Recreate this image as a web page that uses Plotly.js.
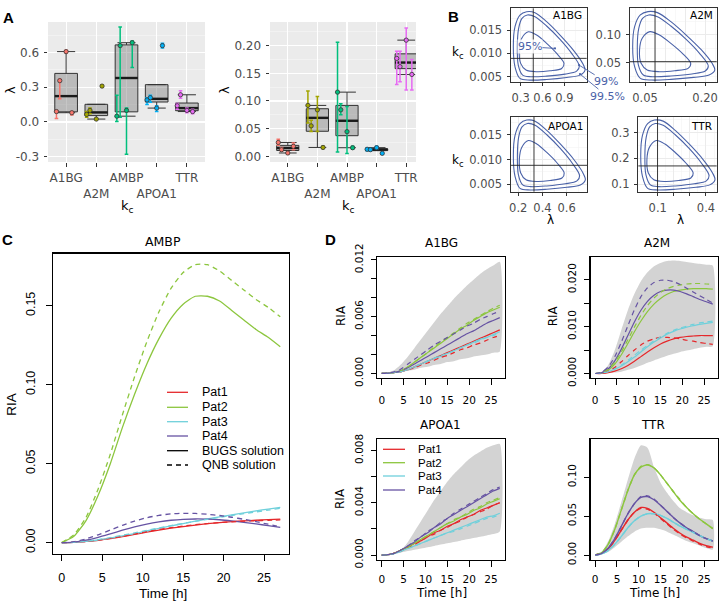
<!DOCTYPE html>
<html>
<head>
<meta charset="utf-8">
<script src="https://cdn.plot.ly/plotly-3.0.1.min.js"></script>
<style>html,body{margin:0;padding:0;background:#fff}</style>
</head>
<body>
<div id="fig" style="width:724px;height:603px"></div>
<script>
// ---------------- Panel A: per-gene estimates, one value per patient ----------------
const genes = ['A1BG', 'A2M', 'AMBP', 'APOA1', 'TTR'];
const geneTickText = ['A1BG', '<br>A2M', 'AMBP', '<br>APOA1', 'TTR'];
const geneColors = ['#F8766D', '#A3A500', '#00BF7D', '#00B0F6', '#E76BF3'];

const leftVal = [
  [0.090, 0.357, 0.608, 0.080],
  [0.065, 0.100, 0.025, 0.310],
  [0.050, 0.660, 0.100, 0.685],
  [0.190, 0.210, 0.120, 0.660],
  [0.140, 0.235, 0.100, 0.090]
];
const leftLo = [
  [0.030, 0.200, 0.595, 0.060],
  [0.040, 0.070, 0.020, 0.300],
  [0.003, 0.040, -0.280, 0.470],
  [0.150, 0.170, 0.090, 0.640],
  [0.110, 0.205, 0.080, 0.070]
];
const leftHi = [
  [0.100, 0.370, 0.620, 0.090],
  [0.090, 0.120, 0.030, 0.320],
  [0.230, 0.820, 0.120, 0.700],
  [0.210, 0.230, 0.140, 0.680],
  [0.160, 0.270, 0.120, 0.110]
];

const rightVal = [
  [0.025, 0.012, 0.006, 0.018],
  [0.092, 0.055, 0.084, 0.016],
  [0.116, 0.084, 0.0445, 0.0155],
  [0.0127, 0.012, 0.0156, 0.0054],
  [0.177, 0.162, 0.210, 0.148]
];
const rightLo = [
  [0.020, 0.009, 0.004, 0.012],
  [0.060, 0.045, 0.045, 0.014],
  [0.008, 0.075, 0.005, 0.013],
  [0.010, 0.010, 0.013, 0.004],
  [0.130, 0.135, 0.120, 0.120]
];
const rightHi = [
  [0.031, 0.016, 0.008, 0.024],
  [0.118, 0.065, 0.108, 0.018],
  [0.206, 0.095, 0.090, 0.018],
  [0.015, 0.014, 0.018, 0.007],
  [0.190, 0.190, 0.232, 0.175]
];

// ---------------- Panel B: likelihood confidence regions (95 / 99 / 99.5 %) ----------------
const bEstLam = [0.473, 0.075, 0.330, 0.099];
const bEstKc = [0.00893, 0.0518, 0.00885, 0.171];

const a1bgLam = [
  [0.405, 0.520, 0.657, 0.795, 0.896, 0.864, 0.703, 0.520, 0.373, 0.300, 0.281, 0.313, 0.405],
  [0.391, 0.497, 0.657, 0.841, 1.001, 1.107, 1.070, 0.910, 0.657, 0.437, 0.327, 0.267, 0.254, 0.272, 0.318, 0.391],
  [0.382, 0.497, 0.657, 0.841, 1.024, 1.153, 1.185, 1.116, 0.933, 0.657, 0.428, 0.290, 0.222, 0.199, 0.222, 0.290, 0.382]
];
const a1bgKc = [
  [0.01464, 0.01393, 0.01214, 0.00999, 0.00785, 0.00677, 0.00627, 0.00606, 0.00642, 0.00785, 0.01071, 0.01321, 0.01464],
  [0.01822, 0.01786, 0.01586, 0.01300, 0.00999, 0.00727, 0.00620, 0.00556, 0.00513, 0.00499, 0.00534, 0.00749, 0.01142, 0.01536, 0.01750, 0.01822],
  [0.01893, 0.01872, 0.01679, 0.01393, 0.01071, 0.00785, 0.00642, 0.00534, 0.00484, 0.00441, 0.00427, 0.00463, 0.00713, 0.01142, 0.01571, 0.01822, 0.01893]
];
const a2mLam = [
  [0.0621, 0.0859, 0.1145, 0.1433, 0.1641, 0.1576, 0.1240, 0.0859, 0.0554, 0.0402, 0.0363, 0.0430, 0.0621],
  [0.0593, 0.0811, 0.1145, 0.1528, 0.1861, 0.2080, 0.2004, 0.1671, 0.1145, 0.0688, 0.0458, 0.0335, 0.0307, 0.0344, 0.0439, 0.0593],
  [0.0573, 0.0811, 0.1145, 0.1528, 0.1909, 0.2175, 0.2242, 0.2099, 0.1718, 0.1145, 0.0668, 0.0383, 0.0240, 0.0192, 0.0240, 0.0383, 0.0573]
];
const a2mKc = [
  [0.1059, 0.0998, 0.0849, 0.0668, 0.0488, 0.0398, 0.0355, 0.0337, 0.0367, 0.0488, 0.0729, 0.0939, 0.1059],
  [0.1360, 0.1329, 0.1161, 0.0920, 0.0668, 0.0440, 0.0349, 0.0296, 0.0259, 0.0247, 0.0277, 0.0457, 0.0788, 0.1119, 0.1300, 0.1360],
  [0.1420, 0.1402, 0.1239, 0.0998, 0.0729, 0.0488, 0.0367, 0.0277, 0.0235, 0.0199, 0.0187, 0.0217, 0.0428, 0.0788, 0.1149, 0.1360, 0.1420]
];
const apoa1Lam = [
  [0.2838, 0.3529, 0.4358, 0.5193, 0.5796, 0.5608, 0.4634, 0.3529, 0.2643, 0.2204, 0.2091, 0.2285, 0.2838],
  [0.2756, 0.3391, 0.4358, 0.5469, 0.6437, 0.7071, 0.6851, 0.5884, 0.4358, 0.3033, 0.2367, 0.2009, 0.1928, 0.2034, 0.2311, 0.2756],
  [0.2700, 0.3391, 0.4358, 0.5469, 0.6575, 0.7347, 0.7542, 0.7127, 0.6022, 0.4358, 0.2976, 0.2147, 0.1733, 0.1595, 0.1733, 0.2147, 0.2700]
];
const apoa1Kc = [
  [0.01387, 0.01317, 0.01145, 0.00937, 0.00730, 0.00627, 0.00578, 0.00557, 0.00592, 0.00730, 0.01007, 0.01248, 0.01387],
  [0.01732, 0.01697, 0.01504, 0.01227, 0.00937, 0.00675, 0.00570, 0.00510, 0.00467, 0.00453, 0.00488, 0.00695, 0.01075, 0.01455, 0.01663, 0.01732],
  [0.01802, 0.01780, 0.01593, 0.01317, 0.01007, 0.00730, 0.00592, 0.00488, 0.00440, 0.00399, 0.00385, 0.00418, 0.00662, 0.01075, 0.01490, 0.01732, 0.01802]
];
const ttrLam = [
  [0.0910, 0.1446, 0.2089, 0.2736, 0.3204, 0.3058, 0.2303, 0.1446, 0.0759, 0.0418, 0.0331, 0.0482, 0.0910],
  [0.0847, 0.1339, 0.2089, 0.2951, 0.3701, 0.4193, 0.4022, 0.3272, 0.2089, 0.1061, 0.0545, 0.0267, 0.0204, 0.0287, 0.0501, 0.0847],
  [0.0803, 0.1339, 0.2089, 0.2951, 0.3808, 0.4407, 0.4558, 0.4236, 0.3379, 0.2089, 0.1017, 0.0375, 0.0053, -0.0054, 0.0053, 0.0375, 0.0803]
];
const ttrKc = [
  [0.2695, 0.2561, 0.2232, 0.1833, 0.1437, 0.1240, 0.1146, 0.1106, 0.1173, 0.1437, 0.1967, 0.2430, 0.2695],
  [0.3355, 0.3288, 0.2919, 0.2389, 0.1833, 0.1333, 0.1132, 0.1016, 0.0934, 0.0908, 0.0975, 0.1371, 0.2098, 0.2826, 0.3224, 0.3355],
  [0.3489, 0.3448, 0.3090, 0.2561, 0.1967, 0.1437, 0.1173, 0.0975, 0.0882, 0.0803, 0.0777, 0.0841, 0.1307, 0.2098, 0.2892, 0.3355, 0.3489]
];

// ---------------- Panels C and D: RIA time courses ----------------
const tGrid = [0, 1.5, 3, 4.5, 6, 7.5, 9, 10.5, 12, 13.5, 15, 16.5, 18, 19.5, 21, 22.5, 24, 25.5, 27];
const patients = ['Pat1', 'Pat2', 'Pat3', 'Pat4'];
const patColors = ['#E5282B', '#8CC63E', '#6FD0DB', '#6653A3'];

const ambpBugs = [
  [0, 0.0002, 0.0008, 0.0015, 0.0025, 0.0038, 0.0052, 0.0067, 0.0080, 0.0092, 0.0102, 0.0111, 0.0120, 0.0127, 0.0133, 0.0138, 0.0142, 0.0146, 0.0149],
  [0, 0.004, 0.014, 0.030, 0.050, 0.073, 0.094, 0.113, 0.129, 0.142, 0.151, 0.156, 0.156, 0.153, 0.147, 0.141, 0.135, 0.130, 0.124],
  [0, 0.0002, 0.0008, 0.0017, 0.0029, 0.0043, 0.0058, 0.0074, 0.0090, 0.0106, 0.0121, 0.0136, 0.0150, 0.0163, 0.0176, 0.0189, 0.0201, 0.0213, 0.0224],
  [0, 0.0004, 0.0016, 0.0034, 0.0056, 0.0079, 0.0100, 0.0118, 0.0132, 0.0142, 0.0148, 0.0150, 0.0149, 0.0145, 0.0138, 0.0129, 0.0119, 0.0108, 0.0097]
];
const ambpQnb = [
  [0, 0.0002, 0.0008, 0.0016, 0.0027, 0.0040, 0.0055, 0.0070, 0.0083, 0.0095, 0.0105, 0.0114, 0.0121, 0.0127, 0.0132, 0.0136, 0.0139, 0.0142, 0.0144],
  [0, 0.005, 0.016, 0.034, 0.056, 0.081, 0.105, 0.127, 0.146, 0.161, 0.171, 0.176, 0.176, 0.172, 0.166, 0.160, 0.154, 0.149, 0.143],
  [0, 0.0002, 0.0009, 0.0019, 0.0032, 0.0047, 0.0062, 0.0078, 0.0093, 0.0108, 0.0122, 0.0135, 0.0148, 0.0160, 0.0172, 0.0184, 0.0195, 0.0206, 0.0217],
  [0, 0.0006, 0.0024, 0.0050, 0.0080, 0.0110, 0.0137, 0.0158, 0.0173, 0.0182, 0.0186, 0.0185, 0.0180, 0.0172, 0.0161, 0.0148, 0.0133, 0.0117, 0.0101]
];

const a1bgBandHi = [0, 0.0001, 0.0004, 0.0010, 0.0018, 0.0027, 0.0036, 0.0045, 0.0054, 0.0063, 0.0071, 0.0079, 0.0086, 0.0093, 0.0099, 0.0105, 0.0110, 0.0114, 0.0118];
const a1bgBandLo = [0, 0.00003, 0.0001, 0.0002, 0.0003, 0.0004, 0.0006, 0.0007, 0.0009, 0.0010, 0.0012, 0.0013, 0.0015, 0.0016, 0.0018, 0.0019, 0.0020, 0.0022, 0.0023];
const a1bgBugs = [
  [0, 0.00002, 0.0001, 0.0002, 0.0004, 0.0007, 0.0010, 0.0013, 0.0016, 0.0019, 0.0022, 0.0025, 0.0028, 0.0031, 0.0034, 0.0037, 0.0040, 0.0043, 0.0046],
  [0, 0.00003, 0.0001, 0.0003, 0.0007, 0.0012, 0.0017, 0.0022, 0.0027, 0.0032, 0.0037, 0.0042, 0.0047, 0.0051, 0.0056, 0.0060, 0.0064, 0.0067, 0.0070],
  [0, 0.00002, 0.0001, 0.0002, 0.0004, 0.0007, 0.0010, 0.0013, 0.0016, 0.0018, 0.0021, 0.0024, 0.0027, 0.0030, 0.0033, 0.0036, 0.0038, 0.0041, 0.0044],
  [0, 0.00003, 0.0001, 0.0003, 0.0006, 0.0010, 0.0014, 0.0018, 0.0022, 0.0026, 0.0030, 0.0034, 0.0038, 0.0042, 0.0045, 0.0049, 0.0053, 0.0056, 0.0059]
];
const a1bgQnb = [
  [0, 0.00002, 0.0001, 0.0002, 0.0004, 0.0006, 0.0009, 0.0011, 0.0014, 0.0017, 0.0019, 0.0022, 0.0025, 0.0027, 0.0030, 0.0032, 0.0035, 0.0038, 0.0040],
  [0, 0.00003, 0.0001, 0.0003, 0.0007, 0.0012, 0.0017, 0.0022, 0.0028, 0.0033, 0.0038, 0.0043, 0.0048, 0.0053, 0.0057, 0.0061, 0.0065, 0.0069, 0.0072],
  [0, 0.00002, 0.0001, 0.0002, 0.0004, 0.0007, 0.0010, 0.0013, 0.0016, 0.0019, 0.0021, 0.0024, 0.0027, 0.0030, 0.0032, 0.0035, 0.0038, 0.0040, 0.0043],
  [0, 0.00004, 0.0002, 0.0005, 0.0010, 0.0015, 0.0020, 0.0025, 0.0030, 0.0034, 0.0038, 0.0042, 0.0046, 0.0050, 0.0053, 0.0057, 0.0060, 0.0063, 0.0066]
];

const a2mBandHi = [0, 0.0003, 0.0018, 0.0050, 0.0093, 0.0135, 0.0170, 0.0197, 0.0216, 0.0229, 0.0236, 0.0240, 0.0241, 0.0240, 0.0238, 0.0236, 0.0234, 0.0232, 0.0230];
const a2mBandLo = [0, 0, 0.0001, 0.0002, 0.0004, 0.0008, 0.0012, 0.0017, 0.0023, 0.0028, 0.0033, 0.0038, 0.0042, 0.0046, 0.0049, 0.0052, 0.0055, 0.0057, 0.0058];
const a2mBugs = [
  [0, 0.0000, 0.0002, 0.0005, 0.0010, 0.0017, 0.0026, 0.0036, 0.0046, 0.0055, 0.0063, 0.0069, 0.0074, 0.0077, 0.0079, 0.0080, 0.0081, 0.0081, 0.0081],
  [0, 0.0001, 0.0007, 0.0020, 0.0040, 0.0064, 0.0089, 0.0112, 0.0132, 0.0148, 0.0160, 0.0169, 0.0175, 0.0178, 0.0180, 0.0181, 0.0181, 0.0181, 0.0180],
  [0, 0.0001, 0.0004, 0.0009, 0.0016, 0.0025, 0.0035, 0.0046, 0.0057, 0.0067, 0.0076, 0.0084, 0.0090, 0.0095, 0.0099, 0.0102, 0.0105, 0.0107, 0.0109],
  [0, 0.0002, 0.0010, 0.0027, 0.0052, 0.0081, 0.0110, 0.0135, 0.0154, 0.0167, 0.0175, 0.0178, 0.0178, 0.0175, 0.0170, 0.0164, 0.0158, 0.0153, 0.0148]
];
const a2mQnb = [
  [0, 0.0001, 0.0005, 0.0013, 0.0025, 0.0038, 0.0050, 0.0061, 0.0069, 0.0074, 0.0077, 0.0077, 0.0076, 0.0074, 0.0071, 0.0069, 0.0066, 0.0064, 0.0062],
  [0, 0.0002, 0.0009, 0.0024, 0.0046, 0.0072, 0.0099, 0.0124, 0.0145, 0.0161, 0.0173, 0.0181, 0.0186, 0.0189, 0.0191, 0.0192, 0.0192, 0.0191, 0.0190],
  [0, 0.0001, 0.0004, 0.0010, 0.0018, 0.0028, 0.0039, 0.0050, 0.0060, 0.0070, 0.0078, 0.0086, 0.0092, 0.0097, 0.0101, 0.0105, 0.0108, 0.0110, 0.0112],
  [0, 0.0003, 0.0014, 0.0036, 0.0067, 0.0102, 0.0136, 0.0164, 0.0183, 0.0194, 0.0199, 0.0199, 0.0196, 0.0190, 0.0182, 0.0174, 0.0166, 0.0158, 0.0150]
];

const apoa1BandHi = [0, 0.00003, 0.0001, 0.0004, 0.0010, 0.0018, 0.0026, 0.0034, 0.0042, 0.0049, 0.0056, 0.0062, 0.0067, 0.0072, 0.0076, 0.0079, 0.0082, 0.0084, 0.0085];
const apoa1BandLo = [0, 0.00002, 0.0001, 0.0002, 0.0003, 0.0004, 0.0005, 0.0006, 0.0007, 0.0008, 0.0009, 0.0010, 0.0011, 0.0012, 0.0013, 0.0014, 0.0015, 0.0016, 0.0018];
const apoa1Bugs = [
  [0, 0.00003, 0.00015, 0.0004, 0.0006, 0.0009, 0.0011, 0.0014, 0.0017, 0.0019, 0.0022, 0.0024, 0.0027, 0.0029, 0.0031, 0.0034, 0.0036, 0.0038, 0.0040],
  [0, 0.00003, 0.00015, 0.0004, 0.0006, 0.0009, 0.0012, 0.0015, 0.0018, 0.0021, 0.0024, 0.0026, 0.0029, 0.0031, 0.0034, 0.0036, 0.0039, 0.0041, 0.0043],
  [0, 0.00003, 0.00012, 0.0003, 0.0005, 0.0007, 0.0009, 0.0011, 0.0013, 0.0015, 0.0017, 0.0019, 0.0021, 0.0023, 0.0025, 0.0027, 0.0029, 0.0030, 0.0032],
  [0, 0.00003, 0.00015, 0.0004, 0.0007, 0.0010, 0.0014, 0.0017, 0.0021, 0.0024, 0.0028, 0.0031, 0.0034, 0.0037, 0.0040, 0.0043, 0.0046, 0.0049, 0.0051]
];
const apoa1Qnb = [
  [0, 0.00003, 0.00014, 0.0003, 0.0006, 0.0008, 0.0011, 0.0014, 0.0016, 0.0019, 0.0021, 0.0024, 0.0026, 0.0029, 0.0031, 0.0033, 0.0035, 0.0038, 0.0040],
  [0, 0.00003, 0.00015, 0.0004, 0.0006, 0.0009, 0.0012, 0.0015, 0.0018, 0.0021, 0.0024, 0.0027, 0.0029, 0.0032, 0.0035, 0.0037, 0.0040, 0.0042, 0.0044],
  [0, 0.00003, 0.00012, 0.0003, 0.0005, 0.0007, 0.0009, 0.0011, 0.0013, 0.0015, 0.0017, 0.0018, 0.0020, 0.0022, 0.0024, 0.0026, 0.0028, 0.0029, 0.0031],
  [0, 0.00003, 0.00015, 0.0004, 0.0007, 0.0011, 0.0014, 0.0018, 0.0021, 0.0025, 0.0028, 0.0032, 0.0035, 0.0038, 0.0041, 0.0044, 0.0047, 0.0050, 0.0052]
];

const ttrBandHi = [0, 0.004, 0.018, 0.040, 0.068, 0.097, 0.124, 0.141, 0.138, 0.113, 0.093, 0.080, 0.069, 0.060, 0.055, 0.051, 0.048, 0.046, 0.045];
const ttrBandLo = [0, 0.001, 0.004, 0.010, 0.017, 0.024, 0.030, 0.034, 0.035, 0.035, 0.033, 0.030, 0.026, 0.022, 0.018, 0.015, 0.012, 0.009, 0.007];
const ttrBugs = [
  [0, 0.002, 0.008, 0.019, 0.032, 0.045, 0.055, 0.061, 0.060, 0.055, 0.048, 0.041, 0.034, 0.028, 0.023, 0.019, 0.015, 0.012, 0.010],
  [0, 0.003, 0.014, 0.033, 0.058, 0.083, 0.103, 0.113, 0.116, 0.112, 0.103, 0.092, 0.081, 0.070, 0.061, 0.053, 0.046, 0.040, 0.034],
  [0, 0.0015, 0.006, 0.014, 0.024, 0.035, 0.044, 0.050, 0.053, 0.053, 0.051, 0.047, 0.042, 0.037, 0.033, 0.029, 0.025, 0.021, 0.018],
  [0, 0.002, 0.009, 0.021, 0.037, 0.053, 0.066, 0.074, 0.075, 0.071, 0.064, 0.056, 0.048, 0.041, 0.035, 0.030, 0.025, 0.021, 0.018]
];
const ttrQnb = [
  [0, 0.002, 0.008, 0.019, 0.032, 0.045, 0.055, 0.060, 0.059, 0.054, 0.047, 0.040, 0.033, 0.027, 0.022, 0.018, 0.014, 0.011, 0.009],
  [0, 0.003, 0.014, 0.033, 0.058, 0.083, 0.103, 0.114, 0.116, 0.112, 0.103, 0.092, 0.081, 0.071, 0.061, 0.053, 0.046, 0.040, 0.034],
  [0, 0.0015, 0.006, 0.014, 0.024, 0.035, 0.044, 0.050, 0.053, 0.053, 0.051, 0.047, 0.042, 0.037, 0.033, 0.029, 0.025, 0.021, 0.018],
  [0, 0.002, 0.009, 0.021, 0.037, 0.053, 0.066, 0.075, 0.076, 0.072, 0.064, 0.056, 0.048, 0.041, 0.035, 0.030, 0.025, 0.021, 0.018]
];

// ---------------- helpers ----------------
const W = 724, H = 603;
const fx = p => p / W;
const fy = p => 1 - p / H;
const xdom = (a, b) => [a / W, b / W];
const ydom = (top, bottom) => [1 - bottom / H, 1 - top / H];
const SANS = 'DejaVu Sans';
const HELV = 'Liberation Sans';

function quant(s, p) {
  const h = (s.length - 1) * p, lo = Math.floor(h), hi = Math.ceil(h);
  return s[lo] + (h - lo) * (s[hi] - s[lo]);
}
function boxStats(v) {
  const s = [...v].sort((a, b) => a - b);
  const q1 = quant(s, 0.25), med = quant(s, 0.5), q3 = quant(s, 0.75), iqr = q3 - q1;
  const lf = Math.min(q1, s.find(x => x >= q1 - 1.5 * iqr));
  const uf = Math.max(q3, [...s].reverse().find(x => x <= q3 + 1.5 * iqr));
  return { q1, med, q3, lf, uf };
}

const traces = [];
const dodge = [-0.32, -0.21, 0, 0.19];
const boxW = 0.75;

function boxPanel(vals, los, his, xa, ya) {
  const st = vals.map(boxStats);
  traces.push({
    type: 'box', xaxis: xa, yaxis: ya, x: genes.map((g, i) => i),
    q1: st.map(s => s.q1), median: st.map(s => s.med), q3: st.map(s => s.q3),
    lowerfence: st.map(s => s.lf), upperfence: st.map(s => s.uf),
    width: boxW, whiskerwidth: 0.8, boxpoints: false,
    fillcolor: 'rgba(120,120,120,0.42)', line: { color: '#333333', width: 1 },
    hoverinfo: 'skip', showlegend: false
  });
  const mx = [], my = [];
  st.forEach((s, i) => { mx.push(i - boxW / 2, i + boxW / 2, null); my.push(s.med, s.med, null); });
  traces.push({ type: 'scatter', mode: 'lines', xaxis: xa, yaxis: ya, x: mx, y: my,
    line: { color: '#1a1a1a', width: 2.4 }, hoverinfo: 'skip', showlegend: false });
  vals.forEach((v, i) => {
    traces.push({
      type: 'scatter', mode: 'markers', xaxis: xa, yaxis: ya,
      x: v.map((_, p) => i + dodge[p]), y: v,
      error_y: { type: 'data', symmetric: false,
        array: v.map((y, p) => his[i][p] - y), arrayminus: v.map((y, p) => y - los[i][p]),
        color: geneColors[i], thickness: 1.5, width: 1.8 },
      marker: { color: geneColors[i], size: 4.3, line: { color: '#333', width: 0.8 } },
      hoverinfo: 'skip', showlegend: false
    });
  });
}
boxPanel(leftVal, leftLo, leftHi, 'x', 'y');
boxPanel(rightVal, rightLo, rightHi, 'x2', 'y2');

// B contours
const contourColor = '#4A62A8';
function contours(lams, kcs, xa, ya) {
  lams.forEach((lam, k) => {
    traces.push({ type: 'scatter', mode: 'lines', xaxis: xa, yaxis: ya, x: lam, y: kcs[k],
      line: { color: contourColor, width: 1.1, shape: 'spline', smoothing: 0.9 },
      hoverinfo: 'skip', showlegend: false });
  });
}
contours(a1bgLam, a1bgKc, 'x3', 'y3');
contours(a2mLam, a2mKc, 'x4', 'y4');
contours(apoa1Lam, apoa1Kc, 'x5', 'y5');
contours(ttrLam, ttrKc, 'x6', 'y6');

// C and D curves
function curves(bugs, qnb, xa, ya, width) {
  bugs.forEach((y, p) => traces.push({ type: 'scatter', mode: 'lines', xaxis: xa, yaxis: ya, x: tGrid, y,
    line: { color: patColors[p], width: width, shape: 'spline', smoothing: 0.6 }, hoverinfo: 'skip', showlegend: false }));
  qnb.forEach((y, p) => traces.push({ type: 'scatter', mode: 'lines', xaxis: xa, yaxis: ya, x: tGrid, y,
    line: { color: patColors[p], width: width, dash: '5px,4px', shape: 'spline', smoothing: 0.6 }, hoverinfo: 'skip', showlegend: false }));
}
function band(hi, lo, xa, ya) {
  traces.push({ type: 'scatter', mode: 'lines', xaxis: xa, yaxis: ya,
    x: tGrid.concat([...tGrid].reverse()), y: hi.concat([...lo].reverse()),
    fill: 'toself', fillcolor: '#D3D3D3', line: { width: 0, shape: 'spline', smoothing: 0.6 },
    hoverinfo: 'skip', showlegend: false });
}
curves(ambpBugs, ambpQnb, 'x7', 'y7', 1.3);
band(a1bgBandHi, a1bgBandLo, 'x8', 'y8'); curves(a1bgBugs, a1bgQnb, 'x8', 'y8', 1.2);
band(a2mBandHi, a2mBandLo, 'x9', 'y9'); curves(a2mBugs, a2mQnb, 'x9', 'y9', 1.2);
band(apoa1BandHi, apoa1BandLo, 'x10', 'y10'); curves(apoa1Bugs, apoa1Qnb, 'x10', 'y10', 1.2);
band(ttrBandHi, ttrBandLo, 'x11', 'y11'); curves(ttrBugs, ttrQnb, 'x11', 'y11', 1.4);

// ---------------- axes ----------------
const layout = {
  width: W, height: H, margin: { l: 0, r: 0, t: 0, b: 0 },
  paper_bgcolor: '#ffffff', plot_bgcolor: 'rgba(0,0,0,0)', showlegend: false,
  font: { family: SANS, size: 12, color: '#000' },
  shapes: [], annotations: []
};

function ggX(domain, range, anchor) {
  return { domain, range, anchor, tickmode: 'array', tickvals: [0, 1, 2, 3, 4], ticktext: geneTickText,
    tickangle: 0, showgrid: true, gridcolor: '#ffffff', gridwidth: 1.1, zeroline: false, showline: false,
    ticks: 'outside', ticklen: 3.5, tickwidth: 1, tickcolor: '#333', ticklabelstandoff: 1,
    tickfont: { family: SANS, size: 12, color: '#4d4d4d' } };
}
function ggY(domain, range, anchor, vals, text, minor) {
  return { domain, range, anchor, tickmode: 'array', tickvals: vals, ticktext: text,
    showgrid: true, gridcolor: '#ffffff', gridwidth: 1.1, zeroline: false, showline: false,
    minor: { tickvals: minor, showgrid: true, gridcolor: '#f7f7f7', gridwidth: 0.6, ticks: '' },
    ticks: 'outside', ticklen: 3.5, tickwidth: 1, tickcolor: '#333', ticklabelstandoff: 2,
    tickfont: { family: SANS, size: 12, color: '#4d4d4d' } };
}
layout.xaxis = ggX(xdom(48, 205), [-0.6, 4.6], 'y');
layout.yaxis = ggY(ydom(22, 162), [-0.346, 0.864], 'x', [-0.3, 0, 0.3, 0.6], ['-0.3', '0.0', '0.3', '0.6'], [-0.15, 0.15, 0.45, 0.75]);
layout.xaxis2 = ggX(xdom(270, 416), [-0.6, 4.33], 'y2');
layout.yaxis2 = ggY(ydom(22, 162), [-0.0103, 0.2428], 'x2', [0, 0.05, 0.1, 0.15, 0.2], ['0.00', '0.05', '0.10', '0.15', '0.20'], [0.025, 0.075, 0.125, 0.175, 0.225]);
['', '2'].forEach(s => layout.shapes.push({ type: 'rect', xref: 'x' + s + ' domain', yref: 'y' + s + ' domain',
  x0: 0, x1: 1, y0: 0, y1: 1, fillcolor: '#EBEBEB', line: { width: 0 }, layer: 'below' }));

function bwAxis(domain, range, anchor, vals, text, minor) {
  return { domain, range, anchor, tickmode: 'array', tickvals: vals, ticktext: text, tickangle: 0,
    showgrid: true, gridcolor: '#EBEBEB', gridwidth: 1, zeroline: false,
    minor: { tickvals: minor, showgrid: true, gridcolor: '#F3F3F3', gridwidth: 0.6, ticks: '' },
    showline: true, mirror: true, linecolor: '#333', linewidth: 1,
    ticks: 'outside', ticklen: 3.5, tickwidth: 1, tickcolor: '#333', ticklabelstandoff: 2,
    tickfont: { family: SANS, size: 11.5, color: '#4d4d4d' } };
}
layout.xaxis3 = bwAxis(xdom(511, 586.7), [0.167, 1.208], 'y3', [0.3, 0.6, 0.9], ['0.3', '0.6', '0.9'], [0.45, 0.75, 1.05]);
layout.yaxis3 = bwAxis(ydom(8.3, 81.7), [0.00393, 0.01966], 'x3', [0.005, 0.010, 0.015], ['0.005', '0.010', '0.015'], [0.0075, 0.0125, 0.0175]);
layout.xaxis4 = bwAxis(xdom(630, 716.7), [0.0125, 0.229], 'y4', [0.05, 0.10, 0.15, 0.20], ['0.05', '', '', '0.20'], [0.025, 0.075, 0.125, 0.175, 0.225]);
layout.yaxis4 = bwAxis(ydom(8.3, 81.7), [0.0157, 0.148], 'x4', [0.05, 0.10], ['0.05', '0.10'], [0.025, 0.075, 0.125]);
layout.xaxis5 = bwAxis(xdom(511, 587), [0.14, 0.768], 'y5', [0.2, 0.4, 0.6], ['0.2', '0.4', '0.6'], [0.3, 0.5, 0.7]);
layout.yaxis5 = bwAxis(ydom(116.7, 191.7), [0.0035, 0.0187], 'x5', [0.005, 0.010, 0.015], ['0.005', '0.010', '0.015'], [0.0075, 0.0125, 0.0175]);
layout.xaxis6 = bwAxis(xdom(638.3, 716.7), [-0.0205, 0.4665], 'y6', [0.1, 0.2, 0.3, 0.4], ['0.1', '', '', '0.4'], [0.05, 0.15, 0.25, 0.35, 0.45]);
layout.yaxis6 = bwAxis(ydom(116.7, 191.7), [0.071, 0.362], 'x6', [0.1, 0.2, 0.3], ['0.1', '0.2', '0.3'], [0.15, 0.25, 0.35]);

[3, 4, 5, 6].forEach((n, k) => {
  layout.shapes.push({ type: 'line', xref: 'x' + n, yref: 'y' + n + ' domain', x0: bEstLam[k], x1: bEstLam[k], y0: 0, y1: 1,
    line: { color: '#222', width: 0.9 } });
  layout.shapes.push({ type: 'line', xref: 'x' + n + ' domain', yref: 'y' + n, x0: 0, x1: 1, y0: bEstKc[k], y1: bEstKc[k],
    line: { color: '#222', width: 0.9 } });
});

function rAxis(domain, range, anchor, vals, text, isY, font, extra) {
  return Object.assign({ domain, range, anchor, tickmode: 'array', tickvals: vals, ticktext: text,
    showgrid: false, zeroline: false, showline: true, mirror: true, linecolor: '#000', linewidth: 1.2,
    ticks: 'outside', ticklen: 5, tickwidth: 1, tickcolor: '#000', ticklabelstandoff: 4,
    tickangle: isY ? -90 : 0, tickfont: font }, extra || {});
}
const tVals = [0, 5, 10, 15, 20, 25], tText = ['0', '5', '10', '15', '20', '25'];
const cFont = { family: HELV, size: 12.5, color: '#000' };
const dFont = { family: SANS, size: 10.5, color: '#000' };
layout.xaxis7 = rAxis(xdom(53, 289), [-1.08, 28.08], 'y7', tVals, tText, false, cFont, { ticklen: 6, ticklabelstandoff: 6 });
layout.yaxis7 = rAxis(ydom(253.6, 553.8), [-0.00704, 0.183], 'x7', [0, 0.05, 0.10, 0.15], ['0.00', '0.05', '0.10', '0.15'], true, cFont, { ticklen: 6, ticklabelstandoff: 6 });
layout.xaxis8 = rAxis(xdom(377, 504.5), [-1.08, 28.08], 'y8', tVals, tText, false, dFont, { ticklen: 6, ticklabelstandoff: 6 });
layout.yaxis8 = rAxis(ydom(257, 378), [-0.00048, 0.0123], 'x8', [0, 0.002, 0.004, 0.006, 0.008, 0.010, 0.012], ['0.000', '', '', '0.006', '', '', '0.012'], true, dFont);
layout.xaxis9 = rAxis(xdom(590.5, 717.5), [-1.08, 28.08], 'y9', tVals, tText, false, dFont, { ticklen: 6, ticklabelstandoff: 6 });
layout.yaxis9 = rAxis(ydom(257, 378), [-0.00096, 0.02486], 'x9', [0, 0.005, 0.010, 0.015, 0.020], ['0.000', '', '0.010', '', '0.020'], true, dFont);
layout.xaxis10 = rAxis(xdom(377, 504.5), [-1.08, 28.08], 'y10', tVals, tText, false, dFont, { ticklen: 6, ticklabelstandoff: 3 });
layout.yaxis10 = rAxis(ydom(439.3, 560), [-0.00038, 0.00885], 'x10', [0, 0.002, 0.004, 0.006, 0.008], ['0.000', '', '0.004', '', '0.008'], true, dFont);
layout.xaxis11 = rAxis(xdom(590.5, 717.5), [-1.08, 28.08], 'y11', tVals, tText, false, dFont, { ticklen: 6, ticklabelstandoff: 3 });
layout.yaxis11 = rAxis(ydom(439.3, 560), [-0.0064, 0.1487], 'x11', [0, 0.05, 0.10, 0.15], ['0.00', '0.05', '0.10', '0.15'], true, dFont);

// ---------------- text ----------------
function txt(text, x, y, o) {
  return Object.assign({ text, xref: 'paper', yref: 'paper', x: fx(x), y: fy(y), showarrow: false,
    xanchor: 'center', yanchor: 'middle', font: { family: SANS, size: 12, color: '#000' } }, o || {});
}
const A = layout.annotations;
const bold = { family: HELV, size: 15, color: '#000' };
A.push(txt('<b>A</b>', 8.3, 18, { font: bold }));
A.push(txt('<b>B</b>', 453, 16.7, { font: bold }));
A.push(txt('<b>C</b>', 7.5, 240, { font: bold }));
A.push(txt('<b>D</b>', 330, 240, { font: bold }));

// Panel A titles
const t13 = { family: SANS, size: 13, color: '#000' };
A.push(txt('λ', 11, 90, { textangle: -90, font: t13 }));
A.push(txt('λ', 225, 90, { textangle: -90, font: t13 }));
A.push(txt('k<sub>c</sub>', 127, 206, { font: t13 }));
A.push(txt('k<sub>c</sub>', 348, 206, { font: t13 }));

// Panel B labels
const bFont = { family: SANS, size: 10.5, color: '#000' };
A.push(txt('A1BG', 584, 15, { xanchor: 'right', font: bFont }));
A.push(txt('A2M', 714.5, 15, { xanchor: 'right', font: bFont }));
A.push(txt('APOA1', 585, 126, { xanchor: 'right', font: bFont }));
A.push(txt('TTR', 714, 126, { xanchor: 'right', font: bFont }));
const t12 = { family: SANS, size: 12, color: '#000' };
A.push(txt('k<sub>c</sub>', 458, 53, { font: t12 }));
A.push(txt('k<sub>c</sub>', 458, 160.5, { font: t12 }));
A.push(txt('λ', 550, 220, { font: t12 }));
A.push(txt('λ', 680, 220, { font: t12 }));
const pctFont = { family: SANS, size: 11, color: contourColor };
A.push({ text: '95%', xref: 'x3', yref: 'y3', x: 0.772, y: 0.01107, ax: -25, ay: -1.5, showarrow: true,
  arrowhead: 6, arrowsize: 0.6, arrowwidth: 0.9, arrowcolor: contourColor, font: pctFont, bgcolor: 'rgba(255,255,255,0.85)', borderpad: 0 });
A.push({ text: '99%', xref: 'x3', yref: 'y3', x: 1.102, y: 0.00749, ax: 27, ay: 16.7, showarrow: true,
  arrowhead: 6, arrowsize: 0.6, arrowwidth: 0.9, arrowcolor: contourColor, font: pctFont, borderpad: 0 });
A.push({ text: '99.5%', xref: 'x3', yref: 'y3', x: 1.116, y: 0.00556, ax: 27, ay: 22, showarrow: true,
  arrowhead: 6, arrowsize: 0.6, arrowwidth: 0.9, arrowcolor: contourColor, font: pctFont, borderpad: 0 });

// Panel C titles + legend
A.push(txt('AMBP', 163, 242, { font: { family: SANS, size: 12.5, color: '#000' } }));
A.push(txt('RIA', 11.7, 404, { textangle: -90, font: { family: HELV, size: 13.5, color: '#000' } }));
A.push(txt('Time [h]', 163, 593, { font: { family: HELV, size: 13.5, color: '#000' } }));
const cLeg = [
  ['Pat1', patColors[0], 'solid'], ['Pat2', patColors[1], 'solid'], ['Pat3', patColors[2], 'solid'],
  ['Pat4', patColors[3], 'solid'], ['BUGS solution', '#000', 'solid'], ['QNB solution', '#000', '5px,4px']
];
const cRows = [392.3, 407.3, 421.7, 436, 450.7, 465];
cLeg.forEach((e, i) => {
  layout.shapes.push({ type: 'line', xref: 'paper', yref: 'paper', x0: fx(167), x1: fx(188), y0: fy(cRows[i]), y1: fy(cRows[i]),
    line: { color: e[1], width: 1.3, dash: e[2] } });
  A.push(txt(e[0], 200, cRows[i], { xanchor: 'left', font: { family: HELV, size: 12.5, color: '#000' } }));
});

// Panel D titles
A.push(txt('A1BG', 441, 243.3, { font: t12 }));
A.push(txt('A2M', 657, 243.3, { font: t12 }));
A.push(txt('APOA1', 440.7, 425, { font: t12 }));
A.push(txt('TTR', 653, 425, { font: t12 }));
A.push(txt('RIA', 341, 316, { textangle: -90, font: t12 }));
A.push(txt('RIA', 553.3, 316, { textangle: -90, font: t12 }));
A.push(txt('RIA', 340, 499, { textangle: -90, font: t12 }));
A.push(txt('Time [h]', 441, 593, { font: t12 }));
A.push(txt('Time [h]', 654, 593, { font: t12 }));
const dRows = [449.3, 462.7, 476, 490];
patients.forEach((p, i) => {
  layout.shapes.push({ type: 'line', xref: 'paper', yref: 'paper', x0: fx(383), x1: fx(405), y0: fy(dRows[i]), y1: fy(dRows[i]),
    line: { color: patColors[i], width: 1.3 } });
  A.push(txt(p, 416, dRows[i], { xanchor: 'left', font: { family: HELV, size: 11.5, color: '#000' } }));
});

Plotly.newPlot('fig', traces, layout, { staticPlot: true, displayModeBar: false });
</script>
</body>
</html>
